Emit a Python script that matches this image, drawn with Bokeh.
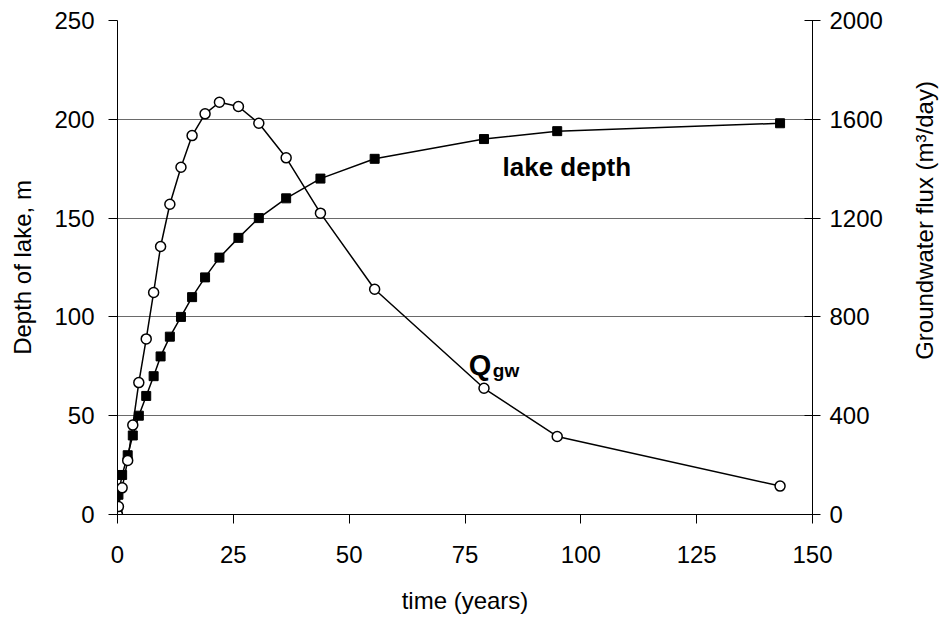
import math
from bokeh.plotting import figure
from bokeh.layouts import row
from bokeh.models import Range1d, LinearAxis, FixedTicker, Label, ColumnDataSource
from bokeh.core.properties import value
from bokeh.embed import file_html
from bokeh.resources import INLINE

# ---- data ----
time_years = [0, 0.2, 1.0, 2.2, 3.3, 4.6, 6.2, 7.8, 9.3, 11.3, 13.7, 16.1, 18.9,
              22.0, 26.1, 30.5, 36.4, 43.8, 55.5, 79.1, 94.9, 143.0]
lake_depth = [0, 10, 20, 30, 40, 50, 60, 70, 80, 90, 100, 110, 120,
              130, 140, 150, 160, 170, 180, 190, 194, 198]
q_gw = [0, 32, 108, 219, 362, 534, 711, 899, 1085, 1256, 1406, 1534, 1622,
        1669, 1652, 1584, 1444, 1220, 912, 511, 316, 115]

x_ticks = [0, 25, 50, 75, 100, 125, 150]
y_ticks = [0, 50, 100, 150, 200, 250]
q_ticks = [0, 400, 800, 1200, 1600, 2000]

right_title = "Groundwater flux (m\u00b3/day)"

FONT = "Liberation Sans"

src = ColumnDataSource(dict(t=time_years, d=lake_depth, q=q_gw))

p = figure(width=905, height=620, output_backend="svg", toolbar_location=None,
           x_range=Range1d(0, 150), y_range=Range1d(0, 250),
           min_border_left=117, min_border_right=93, min_border_top=20,
           min_border_bottom=106)
p.extra_y_ranges = {"q": Range1d(0, 2000)}
p.outline_line_color = None
p.background_fill_color = "white"
p.border_fill_color = "white"

# grid
p.xgrid.grid_line_color = None
p.ygrid.ticker = FixedTicker(ticks=y_ticks)
p.ygrid.grid_line_color = "#6a6a6a"
p.ygrid.grid_line_width = 1

# axes
def style_axis(ax):
    ax.axis_line_color = "black"
    ax.axis_line_width = 1
    ax.major_tick_line_color = "black"
    ax.major_tick_line_width = 1
    ax.minor_tick_line_color = None
    ax.major_label_text_font = FONT
    ax.major_label_text_font_size = "24px"
    ax.major_label_text_color = "black"
    ax.axis_label_text_font = FONT
    ax.axis_label_text_font_size = "24px"
    ax.axis_label_text_font_style = "normal"
    ax.axis_label_text_color = "black"

xa = p.xaxis[0]
style_axis(xa)
xa.ticker = FixedTicker(ticks=x_ticks)
xa.major_tick_in = 0
xa.major_tick_out = 9
xa.major_label_standoff = 22
xa.axis_label = "time (years)"
xa.axis_label_standoff = 21

ya = p.yaxis[0]
style_axis(ya)
ya.ticker = FixedTicker(ticks=y_ticks)
ya.major_tick_in = 0
ya.major_tick_out = 9
ya.major_label_standoff = 14
ya.axis_label = "Depth of lake, m"
ya.axis_label_standoff = 15

ra = LinearAxis(y_range_name="q", ticker=FixedTicker(ticks=q_ticks))
style_axis(ra)
ra.major_tick_in = 8
ra.major_tick_out = 8
ra.major_label_standoff = 9
p.add_layout(ra, "right")

# series
p.line("t", "d", source=src, line_color="black", line_width=1.5)
p.scatter("t", "d", source=src, marker="square", size=9,
          fill_color="black", line_color="black")
p.line("t", "q", source=src, y_range_name="q", line_color="black", line_width=1.5)
p.scatter("t", "q", source=src, y_range_name="q", marker="circle", size=10,
          fill_color="white", line_color="black", line_width=1.5)

# in-plot labels
p.add_layout(Label(x=83.1, y=175.8, text="lake depth", text_font=FONT,
                   text_font_size="26px", text_font_style="bold",
                   text_baseline="alphabetic", text_color="black"))
p.add_layout(Label(x=75.8, y=75.5, text="Q", text_font=FONT,
                   text_font_size="29px", text_font_style="bold",
                   text_baseline="alphabetic", text_color="black"))
p.add_layout(Label(x=81.0, y=73.0, text="gw", text_font=FONT,
                   text_font_size="19px", text_font_style="bold",
                   text_baseline="alphabetic", text_color="black"))

# narrow strip holding the right-hand axis title, reading bottom-to-top
p2 = figure(width=38, height=620, output_backend="svg", toolbar_location=None,
            x_range=Range1d(0, 38), y_range=Range1d(0, 620),
            x_axis_location=None, y_axis_location=None,
            min_border_left=0, min_border_right=0, min_border_top=0,
            min_border_bottom=0)
p2.outline_line_color = None
p2.xgrid.grid_line_color = None
p2.ygrid.grid_line_color = None
p2.text(x=[19], y=[369], text=[right_title], angle=math.pi / 2,
        text_align="center", text_baseline="middle",
        text_font=value(FONT), text_font_size="24px", text_color="black")

layout = row(p, p2, spacing=0)
open("out.html", "w").write(file_html(layout, INLINE))
